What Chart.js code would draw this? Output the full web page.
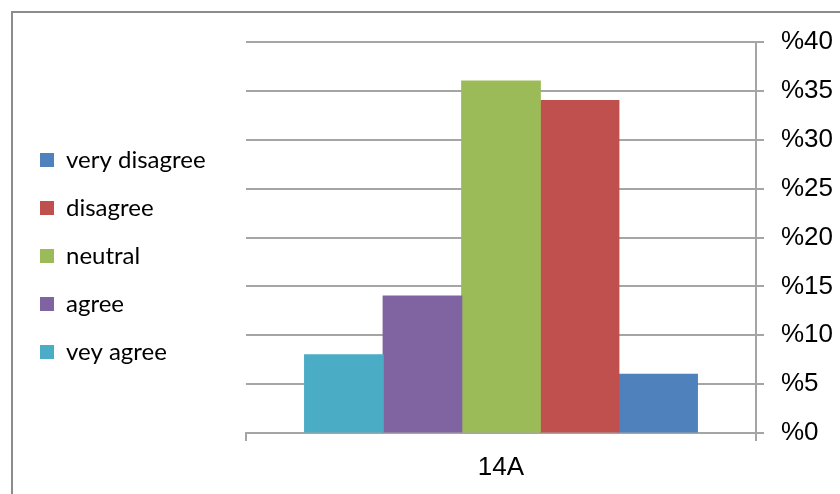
<!DOCTYPE html>
<html>
<head>
<meta charset="utf-8">
<script src="https://cdn.jsdelivr.net/npm/chart.js@4/dist/chart.umd.min.js"></script>
<style>
  html, body { margin: 0; padding: 0; background: #ffffff; overflow: hidden; }
  #wrap { position: relative; width: 840px; height: 494px; }
  #frame { position: absolute; left: 11px; top: 11px; width: 900px; height: 600px;
           border: 2px solid #8c8c8c; pointer-events: none; }
  canvas { position: absolute; left: 0; top: 0; }
</style>
</head>
<body>
<div id="wrap">
  <div id="frame"></div>
  <canvas id="c" width="840" height="494"></canvas>
</div>
<script>
// ---- data ----
const categories = ['14A'];
const seriesNames = ['vey agree', 'agree', 'neutral', 'disagree', 'very disagree'];
const veyAgree = [8];
const agree = [14];
const neutral = [36];
const disagree = [34];
const veryDisagree = [6];
const seriesColors = ['#4BACC6', '#8064A2', '#9BBB59', '#C0504D', '#4F81BD'];
const yMin = 0, yMax = 40, yStep = 5;
const yTickPrefix = '%';

const seriesValues = [veyAgree, agree, neutral, disagree, veryDisagree];

const LEGEND_W = 230;
const legendTweak = {
  id: 'legendTweak',
  beforeInit(chart) {
    const origFit = chart.legend.fit;
    chart.legend.fit = function () {
      origFit.call(this);
      this.width = LEGEND_W;
    };
  },
  afterLayout(chart) {
    chart.legend.top -= 12;
    chart.legend.bottom -= 12;
  }
};

const gridColor = '#a5a5a5';

new Chart(document.getElementById('c'), {
  type: 'bar',
  data: {
    labels: categories,
    datasets: seriesNames.map((name, i) => ({
      label: name,
      data: seriesValues[i],
      backgroundColor: seriesColors[i],
      borderWidth: 0,
      inflateAmount: 0.6
    }))
  },
  options: {
    responsive: false,
    animation: false,
    devicePixelRatio: 1,
    categoryPercentage: 0.77,
    barPercentage: 1.0,
    layout: { padding: { left: 16, right: 0, top: 42, bottom: 0 } },
    plugins: {
      tooltip: { enabled: false },
      legend: {
        position: 'left',
        align: 'center',
        reverse: true,
        labels: {
          font: { family: 'Lato, "Open Sans", sans-serif', size: 24 },
          color: '#000000',
          boxWidth: 14,
          boxHeight: 14,
          padding: 24
        }
      }
    },
    scales: {
      x: {
        afterFit: (s) => { s.height = 61; },
        grid: {
          display: true,
          drawOnChartArea: false,
          drawTicks: true,
          tickLength: 8,
          color: gridColor,
          lineWidth: 2
        },
        border: { display: true, color: gridColor, width: 2 },
        ticks: {
          color: '#000000',
          font: { family: '"Liberation Sans", Arial, sans-serif', size: 26 },
          padding: 11
        }
      },
      y: {
        position: 'right',
        min: yMin,
        max: yMax,
        afterFit: (s) => { s.width = 84; },
        grid: {
          color: gridColor,
          lineWidth: 2,
          tickLength: 8
        },
        border: { display: true, color: gridColor, width: 2 },
        ticks: {
          stepSize: yStep,
          color: '#000000',
          font: { family: '"Liberation Sans", Arial, sans-serif', size: 26 },
          padding: 17,
          callback: (v) => yTickPrefix + v
        }
      }
    }
  },
  plugins: [legendTweak]
});
</script>
</body>
</html>
